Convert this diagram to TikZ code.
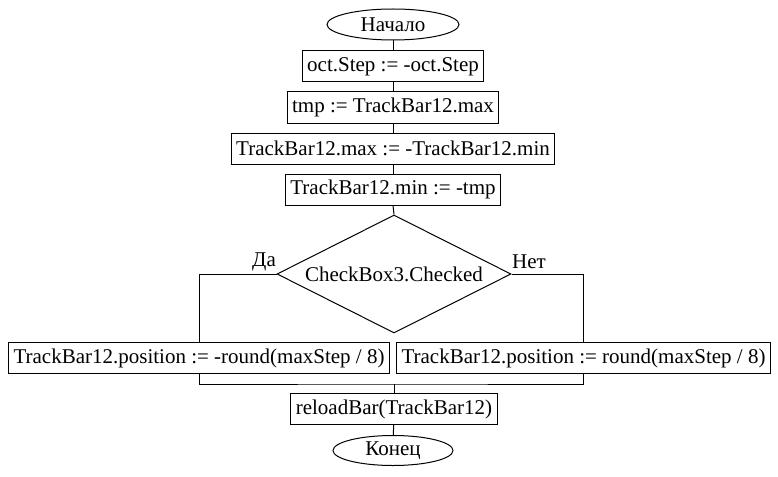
\documentclass[tikz,border=0pt]{standalone}
\usepackage{fontspec}
\setmainfont{Liberation Serif}
\usetikzlibrary{shapes.geometric,positioning}

\begin{document}
\begin{tikzpicture}[x=1pt,y=-1pt,line width=1pt,
    font=\fontsize{21}{25}\selectfont,
    term/.style={draw,ellipse,inner sep=0pt},
    proc/.style={draw,rectangle,minimum height=31,inner xsep=5pt,inner ysep=0pt},
    cond/.style={draw,diamond,aspect=2,minimum width=234,minimum height=118,inner sep=0pt}]
    \useasboundingbox (0,0) rectangle (778,476);
    \node[term,minimum width=132,minimum height=31] (start) at (393,24.5) {Начало};
    \node[proc] (flip) at ([shift={+(0,42)}]start) {oct.Step := -oct.Step};
    \node[proc] (save) at ([shift={+(0,41)}]flip) {tmp := TrackBar12.max};
    \node[proc] (setmax) at ([shift={+(0,41)}]save) {TrackBar12.max := -TrackBar12.min};
    \node[proc] (setmin) at ([shift={+(0,41)}]setmax) {TrackBar12.min := -tmp};
    \node[cond] (check) at ([shift={+(1,84.5)}]setmin) {CheckBox3.Checked};
    \node (yes) at (264,262) {Да};
    \node (no) at (529,262) {Нет};
    \node[proc] (posneg) at (199,358) {TrackBar12.position := -round(maxStep / 8)};
    \node[proc] (pos) at (583.5,358) {TrackBar12.position := round(maxStep / 8)};
    \coordinate (join) at (394,384);
    \node[proc] (reload) at ([shift={+(0,25)}]join) {reloadBar(TrackBar12)};
    \node[term,minimum width=120,minimum height=30] (stop) at ([shift={+(-1,41.5)}]reload) {Конец};
    \draw (start)--(flip);
    \draw (flip)--(save);
    \draw (save)--(setmax);
    \draw (setmax)--(setmin);
    \draw (setmin.south)--(check.north);
    \draw (check.west) -| (posneg);
    \draw (check.east) -| (pos);
    \draw (posneg.south) |- (join) -| (pos.south);
    \draw (join)--(reload);
    \draw (reload)--(stop);
\end{tikzpicture}
\end{document}
